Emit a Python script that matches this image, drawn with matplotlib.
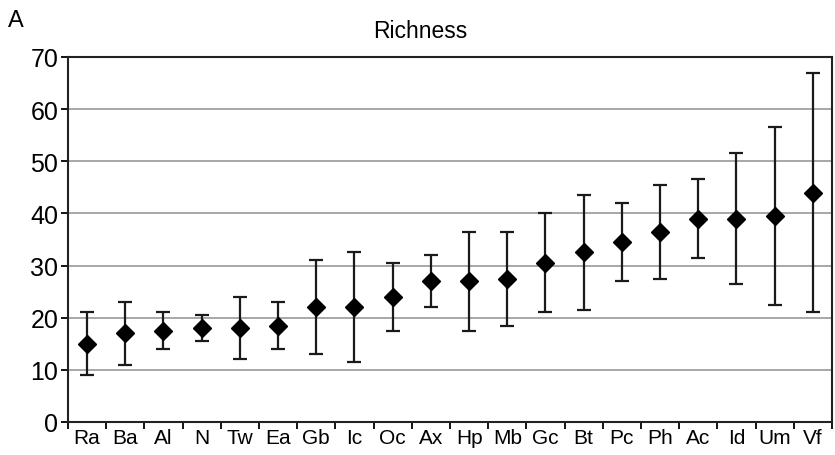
import matplotlib.pyplot as plt
import numpy as np
from matplotlib.ticker import FixedLocator

plt.rcParams['font.family'] = ['Liberation Sans', 'DejaVu Sans']

sites = ['Ra', 'Ba', 'Al', 'N', 'Tw', 'Ea', 'Gb', 'Ic', 'Oc', 'Ax',
         'Hp', 'Mb', 'Gc', 'Bt', 'Pc', 'Ph', 'Ac', 'Id', 'Um', 'Vf']
richness = [15, 17, 17.5, 18, 18, 18.5, 22, 22, 24, 27,
            27, 27.5, 30.5, 32.5, 34.5, 36.5, 39, 39, 39.5, 44]
upper = [21, 23, 21, 20.5, 24, 23, 31, 32.5, 30.5, 32,
         36.5, 36.5, 40, 43.5, 42, 45.5, 46.5, 51.5, 56.5, 67]
lower = [9, 11, 14, 15.5, 12, 14, 13, 11.5, 17.5, 22,
         17.5, 18.5, 21, 21.5, 27, 27.5, 31.5, 26.5, 22.5, 21]

x = np.arange(len(sites))
y = np.array(richness)
err = [y - np.array(lower), np.array(upper) - y]

fig = plt.figure(figsize=(8.35, 4.56), dpi=100)
ax = fig.add_axes([0.0814, 0.0724, 0.915, 0.8006])

ax.errorbar(x, y, yerr=err, fmt='D', color='black', markersize=9,
            ecolor='#1a1a1a', elinewidth=1.6, capsize=4.7, capthick=1.6)

ax.set_xlim(-0.5, len(sites) - 0.5)
ax.set_ylim(0, 70)
ax.set_yticks(np.arange(0, 71, 10))
ax.yaxis.grid(True, color='#a0a0a0', linewidth=1.3)
ax.set_axisbelow(True)

ax.set_xticks(x)
ax.set_xticklabels(sites, fontsize=15)
ax.tick_params(axis='x', which='major', length=0, pad=4)
ax.xaxis.set_minor_locator(FixedLocator(np.arange(-0.5, len(sites), 1.0)))
ax.tick_params(axis='x', which='minor', length=5, width=1.3, direction='out')
ax.tick_params(axis='y', labelsize=18, length=5, width=1.3, direction='out', pad=2)

for s in ax.spines.values():
    s.set_linewidth(1.5)
    s.set_color('#222222')

fig.text(0.503, 0.93, 'Richness', fontsize=16.5, ha='center', va='center')
fig.text(0.01, 0.955, 'A', fontsize=17, ha='left', va='center')

fig.savefig('out.png', dpi=100)
